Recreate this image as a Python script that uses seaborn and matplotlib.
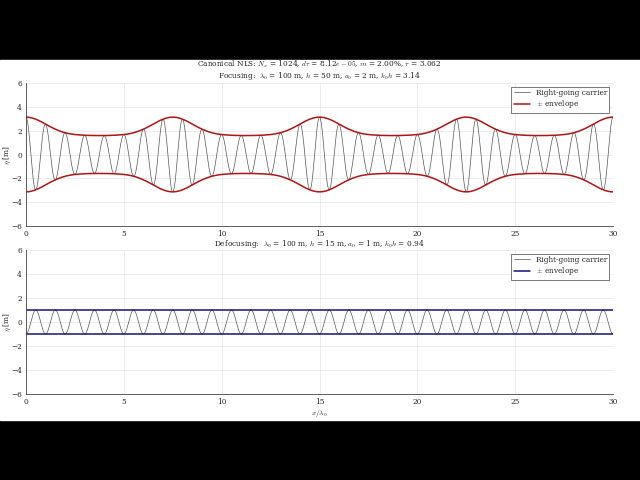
import numpy as np
import matplotlib
matplotlib.use("Agg")
import matplotlib.pyplot as plt
import seaborn as sns
import pandas as pd
from matplotlib.patches import Rectangle

sns.set_style("whitegrid")
plt.rcParams['font.family'] = ['DejaVu Serif']
plt.rcParams['mathtext.fontset'] = 'cm'

# Envelope samples over half a recurrence period (x/lambda0 = 0 .. 3.75)
env_x_half = [0, 0.25, 0.5, 0.75, 1.0, 1.25, 1.5, 1.75, 2.0, 2.25, 2.5, 3.0, 3.5, 3.75]
env_a_half = [3.15, 3.1, 2.97, 2.78, 2.55, 2.32, 2.12, 1.95, 1.82, 1.73, 1.67, 1.61, 1.59, 1.59]
recurrence_period = 7.5
n_waves = 30
defocus_amp = 1.0

x = np.linspace(0, n_waves, 6000)
xm = np.mod(x, recurrence_period)
xm = np.where(xm > recurrence_period / 2, recurrence_period - xm, xm)
env = np.interp(xm, env_x_half, env_a_half)
k = np.ones(61) / 61
env = np.convolve(np.pad(env, 30, mode="reflect"), k, mode="valid")
carrier_top = env * np.cos(2 * np.pi * x)
carrier_bot = -defocus_amp * np.cos(2 * np.pi * x)

df_top = pd.DataFrame({"x": x, "c": carrier_top, "e": env})
df_bot = pd.DataFrame({"x": x, "c": carrier_bot, "e": defocus_amp * np.ones_like(x)})

fig = plt.figure(figsize=(6.4, 4.8), dpi=100)
fig.patch.set_facecolor("black")
fig.patches.append(Rectangle((0, 60/480), 1, 360/480, transform=fig.transFigure,
                             facecolor="white", zorder=-1))

ax1 = fig.add_axes([26/640, 1-226/480, 587/640, 143/480])
ax2 = fig.add_axes([26/640, 1-394/480, 587/640, 144/480])

fs = 5.3
for ax, df, col in [(ax1, df_top, "#b01515"), (ax2, df_bot, "#14147a")]:
    sns.lineplot(data=df, x="x", y="c", ax=ax, color="#555555", lw=0.5, label="Right-going carrier")
    sns.lineplot(data=df, x="x", y="e", ax=ax, color=col, lw=1.1, label=r"$\pm$ envelope")
    ax.plot(df["x"], -df["e"], color=col, lw=1.1)
    ax.set_xlim(0, 30); ax.set_ylim(-6, 6)
    ax.set_xticks([0, 5, 10, 15, 20, 25, 30]); ax.set_yticks([-6, -4, -2, 0, 2, 4, 6])
    ax.tick_params(labelsize=fs, length=2, pad=1)
    ax.set_ylabel(r"$\eta$ [m]", fontsize=fs)
    ax.yaxis.set_label_coords(-0.022, 0.5)
    ax.set_xlabel("")
    ax.grid(True, color="#e6e6e6", lw=0.5)
    for s in ax.spines.values():
        s.set_visible(False)
    ax.spines['left'].set_visible(True); ax.spines['bottom'].set_visible(True)
    ax.spines['left'].set_color('#444444'); ax.spines['bottom'].set_color('#444444')
    ax.spines['left'].set_linewidth(0.6); ax.spines['bottom'].set_linewidth(0.6)
    leg = ax.legend(loc="upper right", fontsize=fs, fancybox=False, framealpha=1,
                    edgecolor="#444444", handlelength=2.2, borderpad=0.3, labelspacing=0.2)
    leg.get_frame().set_linewidth(0.5)

xc = (26 + 613) / 2 / 640
fig.text(xc, 1-64/480, "Canonical NLS: $N_x$ = 1024, $d\\tau$ = 8.12$e-05$, $m$ = 2.00%, $\\tau$ = 3.062",
         fontsize=fs, ha="center", va="center")
fig.text(xc, 1-76/480, "Focusing:  $\\lambda_0$ = 100 m, $h$ = 50 m, $a_0$ = 2 m, $k_0 h$ = 3.14",
         fontsize=fs, ha="center", va="center")
fig.text(xc, 1-244.5/480, "Defocusing:  $\\lambda_0$ = 100 m, $h$ = 15 m, $a_0$ = 1 m, $k_0 h$ = 0.94",
         fontsize=fs, ha="center", va="center")
ax2.set_xlabel(r"$x/\lambda_0$", fontsize=fs, labelpad=1)

fig.savefig("out.png", dpi=100, facecolor=fig.get_facecolor())
